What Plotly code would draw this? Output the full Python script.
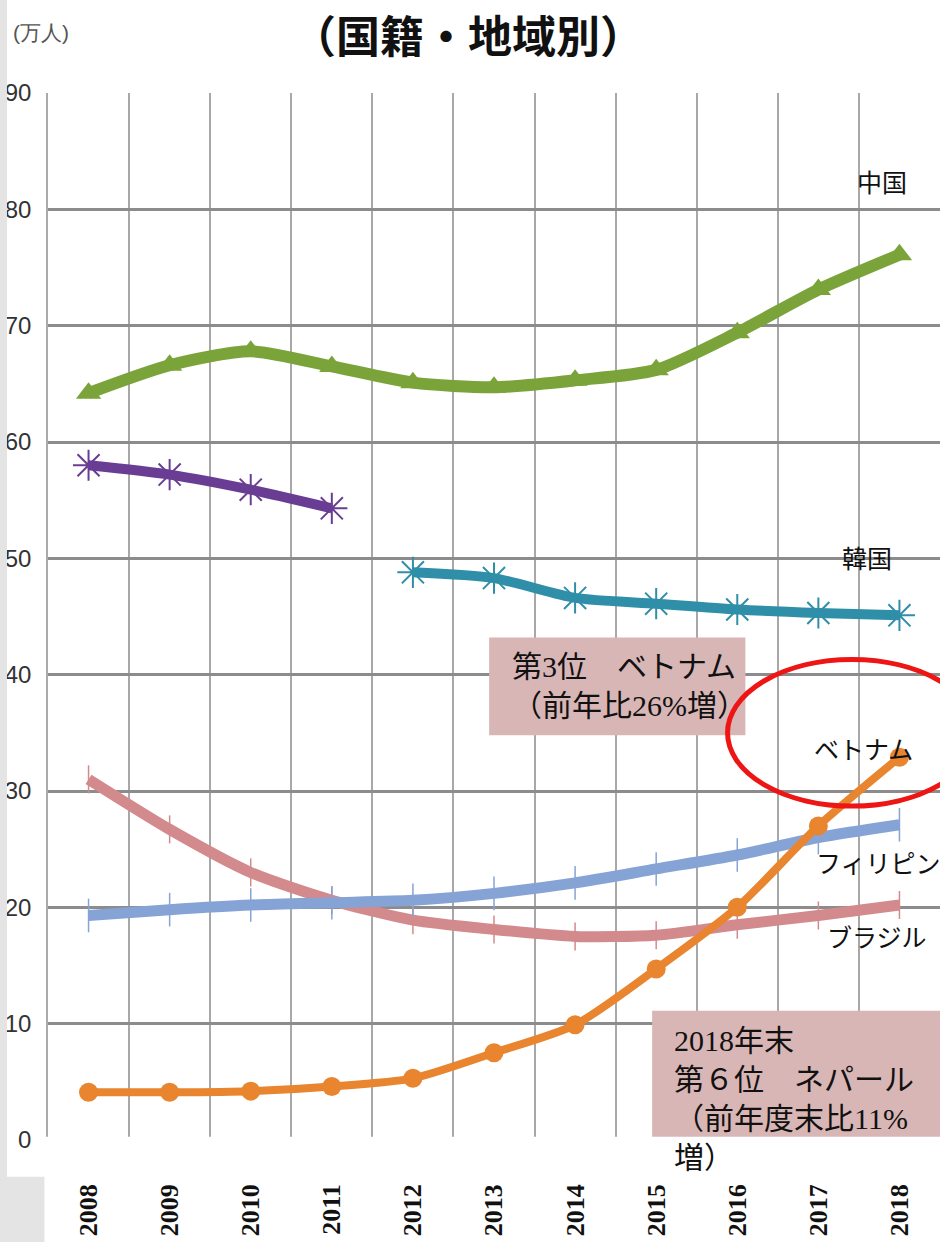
import plotly.graph_objects as go

years = ["2008", "2009", "2010", "2011", "2012", "2013", "2014", "2015", "2016", "2017", "2018"]
china = [64.2, 66.6, 67.8, 66.5, 65.1, 64.7, 65.3, 66.2, 69.4, 73.1, 76.1]
korea_old = [58.0, 57.2, 55.9, 54.3, None, None, None, None, None, None, None]
korea_new = [None, None, None, None, 48.8, 48.3, 46.6, 46.1, 45.6, 45.3, 45.1]
vietnam = [4.1, 4.1, 4.2, 4.6, 5.3, 7.5, 9.9, 14.7, 20.0, 27.0, 32.9]
philippines = [19.3, 19.8, 20.2, 20.4, 20.6, 21.2, 22.1, 23.3, 24.5, 26.0, 27.1]
brazil = [31.0, 26.7, 23.0, 20.6, 18.9, 18.1, 17.5, 17.6, 18.5, 19.3, 20.2]
y_ticks = [0, 10, 20, 30, 40, 50, 60, 70, 80, 90]

xi = list(range(len(years)))

fig = go.Figure()

def add(y, color, width, symbol, msize, mline=None, name=""):
    marker = dict(symbol=symbol, size=msize, color=color)
    if mline:
        marker["line"] = dict(color=color, width=mline)
    fig.add_trace(go.Scatter(
        x=xi, y=y, mode="lines+markers", name=name,
        line=dict(color=color, width=width, shape="spline", smoothing=0.7),
        marker=marker, connectgaps=False, showlegend=False,
    ))

add(brazil, "#d38a8c", 11, "line-ns-open", 20, 1.5, "ブラジル")
add(philippines, "#86a3d6", 11, "line-ns-open", 24, 1.5, "フィリピン")
add(vietnam, "#e8852e", 8, "circle", 19, None, "ベトナム")
add(korea_new, "#2f8ea8", 10, "asterisk-open", 26, 2, "韓国")
add(korea_old, "#6a3d94", 10, "asterisk-open", 26, 2, "韓国")
add(china, "#7aa43a", 12, "triangle-up", 22, None, "中国")

ann_font = dict(family="Noto Sans CJK JP", size=25, color="#111")
labels = [
    ("中国", 9.78, 82.4, "center"),
    ("韓国", 9.6, 50.1, "center"),
    ("ベトナム", 9.56, 33.7, "center"),
    ("フィリピン", 8.95, 23.9, "left"),
    ("ブラジル", 9.72, 17.5, "center"),
]
for t, x, y, xa in labels:
    fig.add_annotation(x=x, y=y, text=t, showarrow=False, font=ann_font, xanchor=xa, yanchor="middle")

box_fill = "#d9b6b6"
fig.add_shape(type="rect", x0=4.94, x1=8.1, y0=34.8, y1=43.2, fillcolor=box_fill, line_width=0, layer="above")
fig.add_shape(type="rect", x0=6.95, x1=10.6, y0=-0.5, y1=11.1, fillcolor=box_fill, line_width=0, layer="above")
# white band at bottom of chart
fig.add_shape(type="rect", xref="paper", yref="paper", x0=-0.01, x1=1.0, y0=-0.032, y1=0.003,
              fillcolor="white", line_width=0, layer="above")

box_font1 = dict(family="Liberation Serif, Noto Sans CJK JP", size=30, color="#111")
box_font2 = dict(family="Liberation Serif, Noto Sans CJK JP", size=30, color="#111")
fig.add_annotation(x=5.2, y=39.0, text="第3位　ベトナム<br>（前年比26%増）", showarrow=False,
                   font=box_font1, xanchor="left", yanchor="middle", align="left")
fig.add_annotation(x=7.19, y=3.5, text="2018年末<br>第６位　ネパール<br>（前年度末比11%<br>増）", showarrow=False,
                   font=box_font2, xanchor="left", yanchor="middle", align="left")

fig.add_shape(type="circle", x0=7.88, x1=10.95, y0=28.7, y1=41.3, line=dict(color="#ee1515", width=5),
              fillcolor="rgba(0,0,0,0)", layer="above")

# gray page background strips
fig.add_shape(type="rect", xref="paper", yref="paper", x0=-0.054, x1=-0.046, y0=-0.1, y1=1.1,
              fillcolor="#e4e4e4", line_width=0, layer="above")
fig.add_shape(type="rect", xref="paper", yref="paper", x0=-0.054, x1=-0.004, y0=-0.1, y1=-0.035,
              fillcolor="#e4e4e4", line_width=0, layer="above")

fig.add_annotation(xref="paper", yref="paper", x=-0.042, y=1.058, text="(万人)", showarrow=False,
                   font=dict(family="Liberation Sans Narrow, Liberation Sans", size=21, color="#555"),
                   xanchor="left", yanchor="middle")
fig.add_annotation(xref="paper", yref="paper", x=0.471, y=1.056, text="（国籍・地域別）", showarrow=False,
                   font=dict(family="Noto Sans CJK JP", size=44, color="#111", weight="bold"),
                   xanchor="center", yanchor="middle")

fig.update_layout(
    width=940, height=1242,
    margin=dict(l=48, r=0, t=93, b=102),
    paper_bgcolor="white", plot_bgcolor="white",
    xaxis=dict(
        range=[-0.5, 10.5], tickmode="array", tickvals=xi, ticktext=years,
        tickangle=-90, ticklabelstandoff=38, showgrid=False, zeroline=False,
        showline=False, automargin=False,
        tickfont=dict(family="Liberation Serif", size=26, color="#111", weight="bold"),
        minor=dict(tickmode="linear", tick0=0.5, dtick=1, showgrid=True, gridcolor="#a8a8a8", gridwidth=1.5, ticklen=0),
    ),
    yaxis=dict(
        range=[0, 90], tickmode="array", tickvals=y_ticks, showgrid=True, gridcolor="#8c8c8c", gridwidth=3,
        zeroline=False, showline=True, linecolor="#aaaaaa", linewidth=1.5, ticks="", ticklabelstandoff=10,
        tickfont=dict(family="Liberation Sans Narrow, Liberation Sans", size=24, color="#333"),
    ),
)

fig.write_html("out.html")
